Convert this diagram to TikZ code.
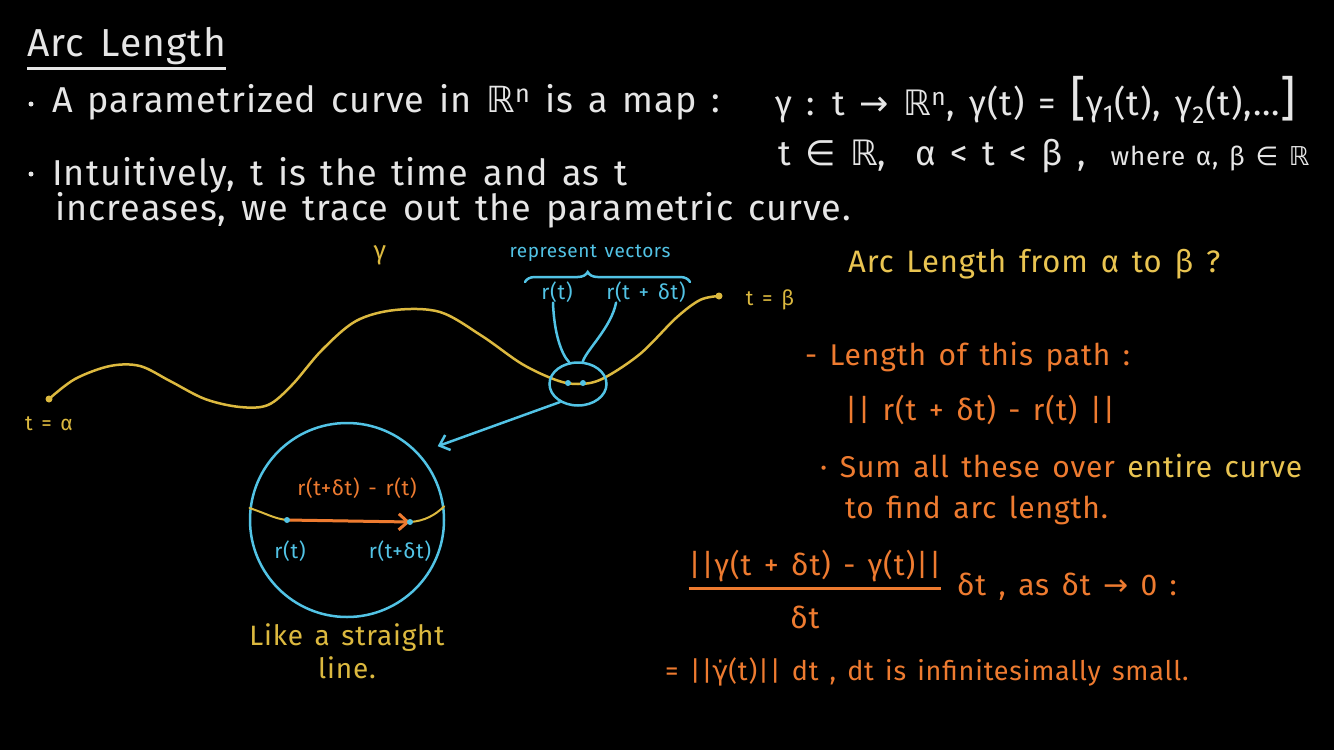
\documentclass[tikz,border=0pt]{standalone}
\usepackage{amsmath,amssymb}
\usepackage{fontspec}
\setmainfont{Fira Sans}[LetterSpace=3, WordSpace=1.4]
\newfontfamily\symfont{DejaVu Sans}
\usetikzlibrary{positioning, arrows.meta, shapes.geometric, decorations.pathreplacing}
\definecolor{chalk}{HTML}{E6E6E6}
\definecolor{gold}{HTML}{DCB93F}
\definecolor{butter}{HTML}{E9C451}
\definecolor{sky}{HTML}{52C3E5}
\definecolor{ember}{HTML}{EE7B30}
\newcommand\fsz[1]{\fontsize{#1}{#1}\selectfont}
\newcommand\sym[1]{{\symfont #1}}
\newcommand\Rset{\sym{ℝ}}
\tikzset{
  board/.style={inner sep=0pt, anchor=base west, text=chalk, font=\fsz{36}},
  note/.style={inner sep=0pt, anchor=base west, text=ember, font=\fsz{30}},
  tag/.style={inner sep=0pt, font=\fsz{21}},
  curve/.style={draw=gold, line width=2.5pt, line cap=round},
  wire/.style={draw=sky, line width=2.5pt, line cap=round},
  barb/.style={-{Straight Barb[length=9pt, width=16pt]}},
  >=Stealth,
}

\begin{document}
\begin{tikzpicture}[x=1pt, y=-1pt]
  \fill[black] (0,0) rectangle (1334,750);
  \useasboundingbox (0,0) rectangle (1334,750);

  \node[board, font=\fsz{39}] (title) at (27,56) {Arc Length};
  \draw[chalk, line width=2.5pt] ([yshift=-4pt]title.south west) -- ([yshift=-4pt]title.south east);

  \fill[chalk] (31,104) circle (2.5pt);
  \node[board] (map) at (52,112) {A parametrized curve in \Rset\textsuperscript{n} is a map :};
  \node[board, font=\fsz{35}] (gamma) at (775,115) {γ : t \sym{→} \Rset\textsuperscript{n}, γ(t) = {\fsz{48}[}γ\textsubscript{1}(t), γ\textsubscript{2}(t),...{\fsz{48}]}};
  \node[board, font=\fsz{35}] (dom) at (778,165) {t \sym{∈} \Rset , \ α < t < β , {\fsz{26} where α, β \sym{∈} \Rset}};
  \fill[chalk] (31,174) circle (2.5pt);
  \node[board] (time) at (52,185) {Intuitively, t is the time and as t};
  \node[board] (trace) at (55,220) {increases, we trace out the parametric curve.};

  \coordinate (alpha) at (49,399);
  \coordinate (beta) at (719,296);
  \draw[curve] plot[smooth, tension=0.55] coordinates {(alpha) (75,379) (110,366) (140,366) (170,381) (205,399) (240,407) (268,405) (292,385) (322,350) (356,321) (395,310) (440,312) (482,336) (522,364) (556,380) (578,384) (602,379) (640,354) (676,318) (700,300) (beta)};
  \fill[gold] (alpha) circle (3.5pt) (beta) circle (3.5pt);
  \node[tag, text=gold] (tlo) at (49,424) {t = α};
  \node[tag, text=gold] (thi) at (770,300) {t = β};
  \node[tag, text=gold, font=\fsz{26}] (gname) at (380,255) {γ};

  \node[draw=sky, ellipse, line width=2.5pt, minimum width=57pt, minimum height=43pt, inner sep=0pt] (lens) at (578,384) {};
  \coordinate (p1) at (568,383);
  \coordinate (p2) at (583,383);
  \fill[sky] (p1) circle (3pt) (p2) circle (3pt);
  \node[tag, text=sky, font=\fsz{19}] (rep) at (590,253) {represent vectors};
  \node[tag, text=sky] (rt) at (557,292) {r(t)};
  \node[tag, text=sky] (rdt) at (646,292) {r(t + δt)};
  \draw[wire, decorate, decoration={brace, amplitude=10pt, aspect=0.38}] (525,282) -- (690,282);
  \draw[wire] ([xshift=-4pt]rt.south) .. controls +(1,30) and +(-8,-8) .. (lens.112);
  \draw[wire] ([xshift=10pt]rdt.south west) .. controls +(-5,25) and +(4,-12) .. (lens.78);

  \node[draw=sky, circle, line width=2.5pt, minimum size=194pt, inner sep=0pt] (zoom) at (347,520) {};
  \draw[wire, barb, shorten >=20pt] (lens.225) -- (zoom.43);
  \coordinate (q1) at (287,520);
  \coordinate (q2) at (410,522);
  \draw[curve, line width=2pt] (zoom.173) .. controls (265,513) and (275,519) .. (q1) -- (q2) .. controls (425,521) and (435,515) .. (zoom.8);
  \draw[ember, line width=3pt, barb] (q1) -- (q2);
  \fill[sky] (q1) circle (3pt) (q2) circle (3pt);
  \node[tag, text=ember] (chord) at (357,488) {r(t+δt) - r(t)};
  \node[tag, text=sky] (qa) at (290,551) {r(t)};
  \node[tag, text=sky] (qb) at (400,551) {r(t+δt)};
  \node[tag, text=gold, font=\fsz{28}] (like) at (347,638) {Like a straight};
  \node[tag, text=gold, font=\fsz{28}] (line) at (347,668) {line.};

  \node[board, text=butter, font=\fsz{31}] (ask) at (848,272) {Arc Length from α to β ?};
  \node[note] (len) at (805,365) {- Length of this path :};
  \node[note] (diff) at (845,420) {|| r(t + δt) - r(t) ||};
  \node[note] (sum) at (820,477) {· Sum all these over {\color{butter}entire curve}};
  \node[note] (find) at (845,518) {to find arc length.};
  \node[note, anchor=base] (num) at (815,575) {||γ(t + δt) - γ(t)||};
  \draw[ember, line width=2.5pt] ([yshift=-7pt]num.south west) -- ([yshift=-7pt]num.south east);
  \node[note, anchor=base] (den) at (805,628) {δt};
  \node[note] (lim) at (957,595) {δt , as δt \sym{→} 0 :};
  \node[note, font=\fsz{27}] (dot) at (665,680) {= ||\sym{γ̇}(t)|| dt , dt is infinitesimally small.};
\end{tikzpicture}
\end{document}
